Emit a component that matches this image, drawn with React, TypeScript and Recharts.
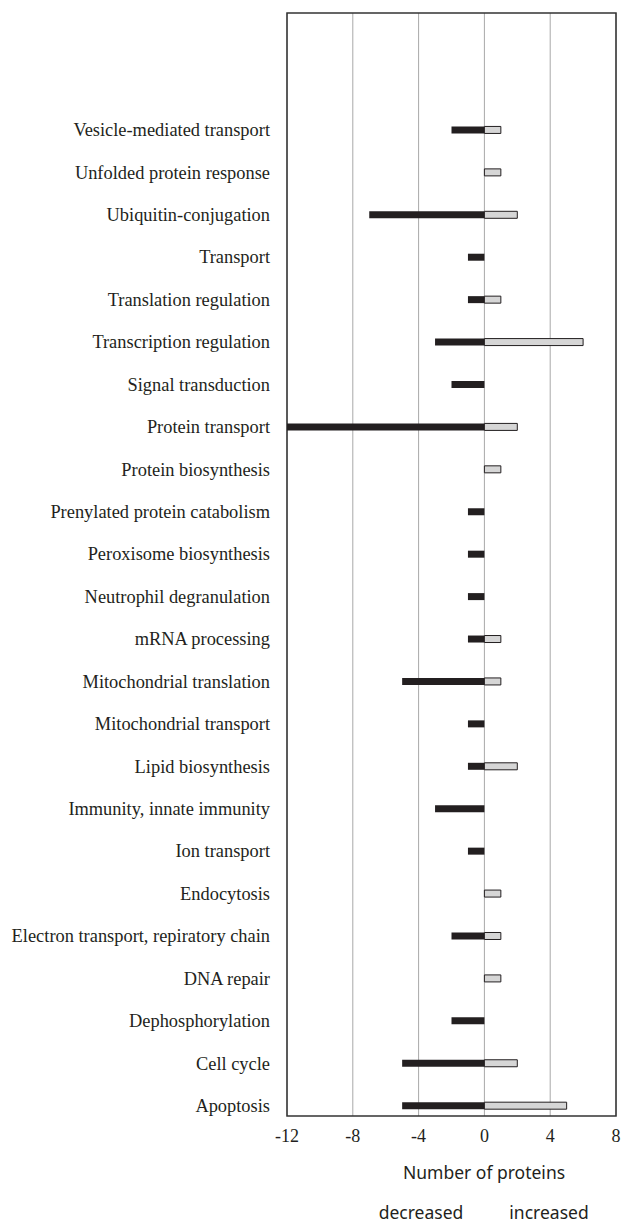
import { BarChart, Bar, XAxis, YAxis, CartesianGrid, ReferenceArea } from "recharts";

// categories from top to bottom
const categories = [
  "Vesicle-mediated transport",
  "Unfolded protein response",
  "Ubiquitin-conjugation",
  "Transport",
  "Translation regulation",
  "Transcription regulation",
  "Signal transduction",
  "Protein transport",
  "Protein biosynthesis",
  "Prenylated protein catabolism",
  "Peroxisome biosynthesis",
  "Neutrophil degranulation",
  "mRNA processing",
  "Mitochondrial translation",
  "Mitochondrial transport",
  "Lipid biosynthesis",
  "Immunity, innate immunity",
  "Ion transport",
  "Endocytosis",
  "Electron transport, repiratory chain",
  "DNA repair",
  "Dephosphorylation",
  "Cell cycle",
  "Apoptosis",
];

const decreased = [-2, 0, -7, -1, -1, -3, -2, -12, 0, -1, -1, -1, -1, -5, -1, -1, -3, -1, 0, -2, 0, -2, -5, -5];
const increased = [1, 1, 2, 0, 1, 6, 0, 2, 1, 0, 0, 0, 1, 1, 0, 2, 0, 0, 1, 1, 1, 0, 2, 5];

const xTicks = [-12, -8, -4, 0, 4, 8];

const data = categories.map((name, i) => ({
  name,
  pos: i,
  decreased: decreased[i],
  increased: increased[i],
}));

const serif = "'Liberation Serif', 'Times New Roman', serif";
const sans = "'Noto Sans', 'Open Sans', sans-serif";

const noteStyle = {
  position: "absolute" as const,
  transform: "translateX(-50%)",
  whiteSpace: "nowrap" as const,
  fontFamily: sans,
  fontSize: 17.5,
  lineHeight: "24px",
  color: "#231f20",
};

export default function App() {
  return (
    <div style={{ position: "absolute", left: 0, top: 0, width: 622, height: 1223, background: "#fff" }}>
      <BarChart
        width={622}
        height={1223}
        data={data}
        layout="vertical"
        stackOffset="sign"
        margin={{ top: 13, right: 6, bottom: 77, left: 0 }}
      >
        <CartesianGrid horizontal={false} stroke="#a8a8a8" strokeWidth={1} />
        <XAxis
          type="number"
          domain={[-12, 8]}
          ticks={xTicks}
          allowDataOverflow
          axisLine={false}
          tickLine={false}
          tickSize={0}
          tickMargin={13}
          tick={{ fontFamily: serif, fontSize: 18, fill: "#231f20" }}
        />
        <YAxis
          type="number"
          dataKey="pos"
          domain={[-2.75, 23.25]}
          ticks={categories.map((_, i) => i)}
          interval={0}
          width={287}
          axisLine={false}
          tickLine={false}
          tickSize={0}
          tickMargin={17}
          tickFormatter={(v: number) => categories[v] ?? ""}
          tick={{ fontFamily: serif, fontSize: 18.4, fill: "#231f20" }}
        />
        <Bar dataKey="decreased" stackId="a" barSize={7} fill="#231f20" isAnimationActive={false} />
        <Bar
          dataKey="increased"
          stackId="a"
          barSize={7}
          fill="#d6d6d6"
          stroke="#231f20"
          strokeWidth={1}
          isAnimationActive={false}
        />
        <ReferenceArea x1={-12} x2={8} fill="none" stroke="#333" strokeWidth={1.5} ifOverflow="visible" />
      </BarChart>
      <div style={{ ...noteStyle, left: 484, top: 1160 }}>Number of proteins</div>
      <div style={{ ...noteStyle, left: 421, top: 1200 }}>decreased</div>
      <div style={{ ...noteStyle, left: 549, top: 1200 }}>increased</div>
    </div>
  );
}
